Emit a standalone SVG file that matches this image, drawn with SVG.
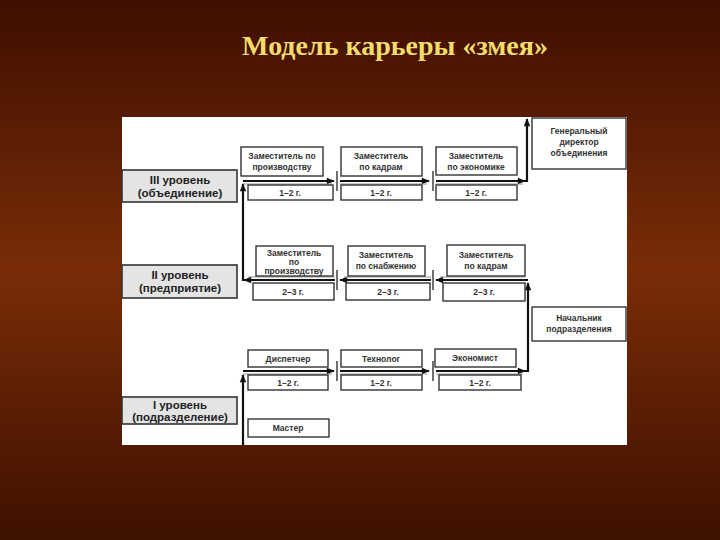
<svg xmlns="http://www.w3.org/2000/svg" width="720" height="540" viewBox="0 0 720 540">
<defs>
<linearGradient id="bg" x1="0" y1="0" x2="0" y2="1">
<stop offset="0" stop-color="#3e0f00"/>
<stop offset="0.5" stop-color="#7a2c08"/>
<stop offset="1" stop-color="#3e1100"/>
</linearGradient>
<marker id="ah" viewBox="0 0 10 10" refX="9" refY="5" markerWidth="10" markerHeight="8" markerUnits="userSpaceOnUse" orient="auto">
<path d="M0,1 L10,5 L0,9 Z" fill="#111"/>
</marker>
<style>
.box{fill:#fff;stroke:#333;stroke-width:1.4}
.lvl{fill:#e4e4e4;stroke:#333;stroke-width:1.6}
.t{font-family:"Liberation Sans",Arial,sans-serif;font-size:8.5px;font-weight:bold;fill:#333;text-anchor:middle}
.lt{font-family:"Liberation Sans",Arial,sans-serif;font-size:11.5px;font-weight:bold;fill:#222;text-anchor:middle}
.ln{fill:none;stroke:#111;stroke-width:2.2}
.ln2{fill:none;stroke:#777;stroke-width:0.8}
.tick{stroke:#333;stroke-width:1.4}
</style>
</defs>
<rect x="0" y="0" width="720" height="540" fill="url(#bg)"/>
<text x="395" y="55" font-family="'Liberation Serif','Times New Roman',serif" font-size="28" font-weight="bold" fill="#f3dc6a" text-anchor="middle">Модель карьеры «змея»</text>
<rect x="122" y="117" width="505" height="328" fill="#fff"/>

<g id="connectors">
<line class="ln" x1="243" y1="445" x2="243" y2="375" marker-end="url(#ah)"/>
<line class="ln" x1="243" y1="371" x2="334" y2="371" marker-end="url(#ah)"/>
<line class="ln2" x1="243" y1="374" x2="332" y2="374"/>
<line class="ln" x1="340" y1="371" x2="429" y2="371" marker-end="url(#ah)"/>
<line class="ln2" x1="340" y1="374" x2="427" y2="374"/>
<line class="ln" x1="436" y1="371" x2="525" y2="371" marker-end="url(#ah)"/>
<line class="ln2" x1="436" y1="374" x2="523" y2="374"/>
<line class="tick" x1="337" y1="361" x2="337" y2="381"/>
<line class="tick" x1="433" y1="361" x2="433" y2="381"/>
<polyline class="ln" points="525,371 528,371 528,283" marker-end="url(#ah)"/>
<line class="ln" x1="528" y1="280" x2="436" y2="280" marker-end="url(#ah)"/>
<line class="ln2" x1="525" y1="277" x2="440" y2="277"/>
<line class="ln" x1="431" y1="280" x2="340" y2="280" marker-end="url(#ah)"/>
<line class="ln2" x1="431" y1="277" x2="344" y2="277"/>
<line class="ln" x1="335" y1="280" x2="244" y2="280" marker-end="url(#ah)"/>
<line class="ln2" x1="335" y1="277" x2="248" y2="277"/>
<line class="tick" x1="337" y1="270" x2="337" y2="290"/>
<line class="tick" x1="433" y1="270" x2="433" y2="290"/>
<polyline class="ln" points="244,280 243,280 243,184" marker-end="url(#ah)"/>
<line class="ln" x1="243" y1="181" x2="334" y2="181" marker-end="url(#ah)"/>
<line class="ln2" x1="243" y1="184" x2="332" y2="184"/>
<line class="ln" x1="340" y1="181" x2="429" y2="181" marker-end="url(#ah)"/>
<line class="ln2" x1="340" y1="184" x2="427" y2="184"/>
<line class="ln" x1="436" y1="181" x2="525" y2="181" marker-end="url(#ah)"/>
<line class="ln2" x1="436" y1="184" x2="523" y2="184"/>
<line class="tick" x1="337" y1="171" x2="337" y2="191"/>
<line class="tick" x1="433" y1="171" x2="433" y2="191"/>
<polyline class="ln" points="524,181 527,181 527,119" marker-end="url(#ah)"/>
</g>

<g id="lvl3"><rect class="lvl" x="122" y="170" width="115" height="32"/><text class="lt" x="180" y="184">III уровень</text><text class="lt" x="180" y="197">(объединение)</text></g>
<g id="lvl2"><rect class="lvl" x="122" y="265" width="115" height="33"/><text class="lt" x="180" y="279">II уровень</text><text class="lt" x="180" y="292">(предприятие)</text></g>
<g id="lvl1"><rect class="lvl" x="122" y="397" width="115" height="27"/><text class="lt" x="180" y="409">I уровень</text><text class="lt" x="180" y="421">(подразделение)</text></g>

<g id="r3a"><rect class="box" x="241" y="147" width="82" height="29"/><text class="t" x="282" y="159">Заместитель по</text><text class="t" x="282" y="170">производству</text></g>
<g id="r3a-y"><rect class="box" x="248" y="185" width="85" height="15"/><text class="t" x="290" y="196">1–2 г.</text></g>
<g id="r3b"><rect class="box" x="341" y="147" width="81" height="29"/><text class="t" x="381" y="159">Заместитель</text><text class="t" x="381" y="170">по кадрам</text></g>
<g id="r3b-y"><rect class="box" x="341" y="185" width="81" height="15"/><text class="t" x="381" y="196">1–2 г.</text></g>
<g id="r3c"><rect class="box" x="436" y="147" width="81" height="28"/><text class="t" x="476" y="159">Заместитель</text><text class="t" x="476" y="170">по экономике</text></g>
<g id="r3c-y"><rect class="box" x="436" y="185" width="81" height="15"/><text class="t" x="476" y="196">1–2 г.</text></g>
<g id="gen"><rect class="box" x="532" y="118" width="94" height="51"/><text class="t" x="579" y="134">Генеральный</text><text class="t" x="579" y="145">директор</text><text class="t" x="579" y="156">объединения</text></g>

<g id="r2a"><rect class="box" x="256" y="246" width="77" height="30"/><text class="t" x="294" y="256">Заместитель</text><text class="t" x="294" y="265">по</text><text class="t" x="294" y="274">производству</text></g>
<g id="r2a-y"><rect class="box" x="253" y="283" width="81" height="17"/><text class="t" x="293" y="295">2–3 г.</text></g>
<g id="r2b"><rect class="box" x="348" y="246" width="77" height="30"/><text class="t" x="386" y="258">Заместитель</text><text class="t" x="386" y="269">по снабжению</text></g>
<g id="r2b-y"><rect class="box" x="346" y="283" width="84" height="17"/><text class="t" x="388" y="295">2–3 г.</text></g>
<g id="r2c"><rect class="box" x="447" y="245" width="78" height="31"/><text class="t" x="486" y="258">Заместитель</text><text class="t" x="486" y="269">по кадрам</text></g>
<g id="r2c-y"><rect class="box" x="443" y="283" width="82" height="18"/><text class="t" x="484" y="295">2–3 г.</text></g>
<g id="nach"><rect class="box" x="532" y="307" width="94" height="34"/><text class="t" x="579" y="321">Начальник</text><text class="t" x="579" y="332">подразделения</text></g>

<g id="r1a"><rect class="box" x="248" y="350" width="80" height="17"/><text class="t" x="288" y="362">Диспетчер</text></g>
<g id="r1a-y"><rect class="box" x="248" y="375" width="80" height="15"/><text class="t" x="288" y="386">1–2 г.</text></g>
<g id="r1b"><rect class="box" x="341" y="350" width="81" height="17"/><text class="t" x="381" y="362">Технолог</text></g>
<g id="r1b-y"><rect class="box" x="341" y="375" width="81" height="15"/><text class="t" x="381" y="386">1–2 г.</text></g>
<g id="r1c"><rect class="box" x="435" y="349" width="81" height="18"/><text class="t" x="475" y="361">Экономист</text></g>
<g id="r1c-y"><rect class="box" x="439" y="375" width="82" height="15"/><text class="t" x="480" y="386">1–2 г.</text></g>
<g id="master"><rect class="box" x="248" y="419" width="81" height="18"/><text class="t" x="288" y="431">Мастер</text></g>
</svg>
